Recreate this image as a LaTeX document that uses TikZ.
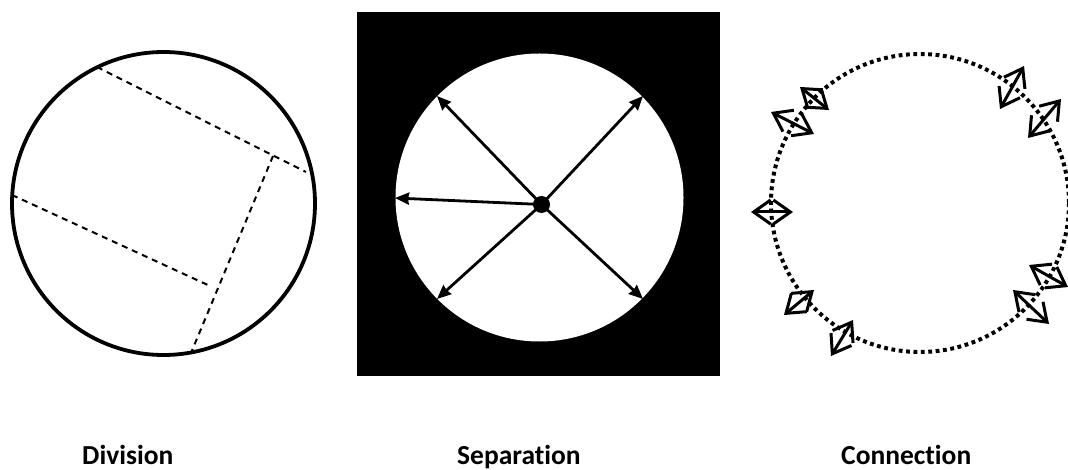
\documentclass[tikz,border=0pt]{standalone}
\usepackage{fontspec}
\setmainfont[Ligatures={NoCommon}]{Carlito}
\usetikzlibrary{arrows.meta}
\tikzset{
  rim/.style={line width=3.8pt},
  cut/.style={line width=2pt, dash pattern=on 6pt off 5pt},
  ray/.style={line width=2.8pt, -{Stealth[length=14pt,width=12pt,inset=1pt]}},
  dotring/.style={line width=4pt, dash pattern=on 3.8pt off 3.6pt},
  link/.style={line width=3pt, {Straight Barb[length=17pt,width=24pt]}-{Straight Barb[length=17pt,width=24pt]}},
  caption/.style={font=\fontsize{27.5}{30}\selectfont\bfseries, inner sep=0pt, anchor=base west}
}
\begin{document}
\begin{tikzpicture}[x=1pt,y=-1pt]
\useasboundingbox (0,0) rectangle (1068,470);
% ---- Division ----
\node[draw, rim, circle, minimum size=303pt, inner sep=0pt] (div) at (163.5,203.5) {};
\coordinate (d1) at (97,67);
\coordinate (d2) at (306,172);
\coordinate (dc) at (273,156);
\coordinate (d3) at (191,353);
\coordinate (d4) at (12,195);
\coordinate (d5) at (210,286);
\draw[cut] (d1) -- (d2);
\draw[cut] (dc) -- (d3);
\draw[cut] (d4) -- (d5);
% ---- Separation ----
\fill (357,12) rectangle (720,376);
\fill[white] (539.5,197.5) circle[radius=144];
\node[circle, fill, minimum size=17pt, inner sep=0pt] (hub) at (541.5,204.5) {};
\coordinate (s1) at (437,96);
\coordinate (s2) at (643,96);
\coordinate (s3) at (395,198);
\coordinate (s4) at (437,299);
\coordinate (s5) at (643,299);
\foreach \t in {s1,s2,s3,s4,s5} \draw[ray] (hub.center) -- (\t);
% ---- Connection ----
\draw[dotring] (920,203) circle[radius=149];
\coordinate (a1) at (800,87);   \coordinate (b1) at (829,110);
\coordinate (a2) at (771,112);  \coordinate (b2) at (814,134);
\coordinate (a3) at (751,212);  \coordinate (b3) at (793,212);
\coordinate (a4) at (814,290);  \coordinate (b4) at (784,315);
\coordinate (a5) at (853,320);  \coordinate (b5) at (831,356);
\coordinate (a6) at (1024,66);  \coordinate (b6) at (1000,109);
\coordinate (a7) at (1061,99);  \coordinate (b7) at (1028,138);
\coordinate (a8) at (1029,265); \coordinate (b8) at (1068,287);
\coordinate (a9) at (1013,290); \coordinate (b9) at (1049,324);
\foreach \i in {1,...,9} \draw[link] (a\i) -- (b\i);
% ---- Captions ----
\node[caption] (capd) at (82,464) {Division};
\node[caption] (caps) at (457,464) {Separation};
\node[caption] (capc) at (841,464) {Connection};
\end{tikzpicture}
\end{document}
